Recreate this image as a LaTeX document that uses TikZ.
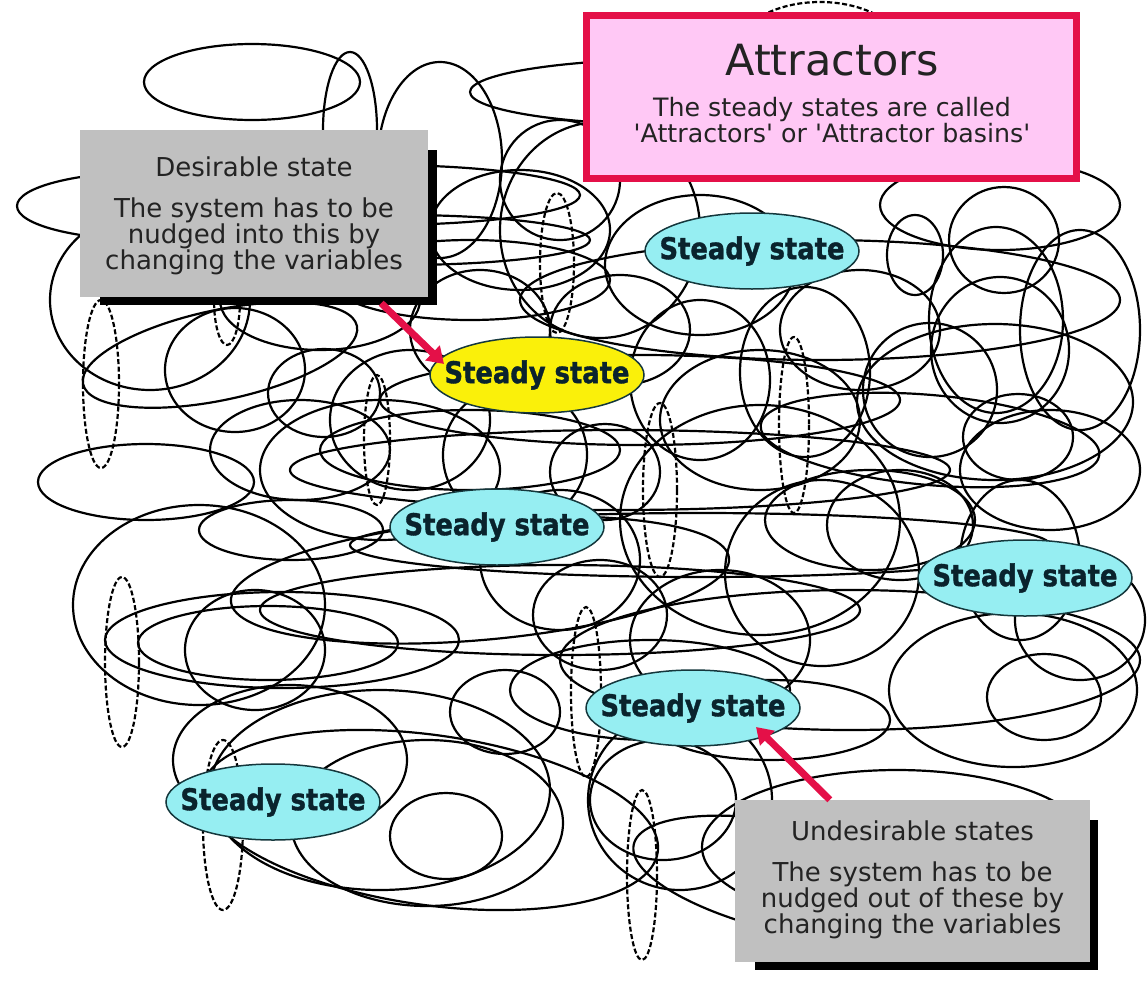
\documentclass[tikz,border=0pt]{standalone}
\usepackage{fontspec}
\setmainfont{DejaVu Sans}
\newfontfamily\statefont[FakeStretch=0.86,FakeBold=1.2]{DejaVu Sans}
\usetikzlibrary{shapes.geometric,arrows.meta}

\definecolor{pinkfill}{RGB}{255,200,245}
\definecolor{redline}{RGB}{228,16,72}
\definecolor{boxgray}{RGB}{192,192,192}
\definecolor{cyanfill}{RGB}{150,238,242}
\definecolor{yellowfill}{RGB}{250,240,10}
\definecolor{inktext}{RGB}{35,35,35}
\definecolor{statetext}{RGB}{10,35,45}
\definecolor{stateedge}{RGB}{20,55,60}

\tikzset{
  bgline/.style={line width=2.2pt, black},
  bgdash/.style={bgline, dash pattern=on 5pt off 2.5pt},
  state/.style={ellipse, draw=stateedge, line width=1.5pt,
    inner xsep=-18pt, inner ysep=0pt,
    minimum width=214pt, minimum height=76pt,
    font=\statefont\bfseries\fontsize{30}{30}\selectfont, text=statetext},
  cyanstate/.style={state, fill=cyanfill},
  yellowstate/.style={state, fill=yellowfill},
  notebox/.style={rectangle, fill=boxgray, inner sep=0pt},
  shadowbox/.style={rectangle, fill=black, inner sep=0pt},
  notetext/.style={align=center, text=inktext, inner sep=0pt,
    font=\fontsize{26}{25.8}\selectfont},
  pointer/.style={redline, line width=7pt, -{Triangle[length=16pt,width=20pt]}}
}

\begin{document}
\begin{tikzpicture}[x=1pt,y=-1pt]
\useasboundingbox (0,0) rectangle (1147,980);
\fill[white] (0,0) rectangle (1147,980);

% tangle of solid orbits
\foreach \cx/\cy/\rx/\ry/\rot in {
  252/82/108/38/0, 350/130/27/78/0, 440/160/62/98/0, 680/92/210/33/0,
  600/230/100/108/0, 150/206/133/34/0, 150/300/100/90/0, 220/355/140/45/12,
  235/370/70/62/0, 324/393/56/44/0, 146/482/108/38/0, 199/605/126/100/0,
  282/640/177/48/0, 268/643/130/37/0, 255/650/70/60/0, 291/530/92/30/0,
  290/760/117/75/0, 427/823/136/83/0, 446/836/56/43/0, 505/712/55/42/0,
  430/820/230/85/-8, 470/450/150/40/0, 515/455/72/70/0, 605/472/55/48/0,
  760/520/140/115/0, 700/265/95/70/0, 915/255/28/40/0, 996/320/67/93/0,
  1004/240/55/53/0, 1000/205/120/45/0, 995/402/138/78/0, 930/440/170/45/-5,
  930/390/67/67/0, 1018/437/55/43/0, 900/525/73/55/0, 870/520/105/50/0,
  1020/560/60/80/0, 1044/697/57/43/0, 1013/690/124/77/0, 850/660/290/70/0,
  663/800/73/60/0, 897/847/195/77/0, 822/573/97/93/0, 380/790/170/100/0,
  600/615/67/55/0, 680/800/92/90/0, 800/880/170/55/-12, 805/372/65/85/0,
  1000/350/69/73/0, 820/300/300/60/0, 620/470/330/40/0, 700/545/350/32/0,
  560/610/300/45/0, 480/580/250/60/5, 640/400/260/45/0, 480/330/70/60/0,
  620/330/70/55/0, 410/420/80/70/0, 520/230/90/60/0, 470/280/140/40/0,
  560/180/60/60/0, 320/300/100/50/0, 380/470/120/70/0, 300/450/90/50/0,
  560/560/80/70/0, 720/640/90/70/0, 650/690/140/50/0, 770/720/120/40/0,
  1080/330/60/100/0, 1050/470/90/60/0, 1080/620/65/60/0, 760/420/100/70/0,
  860/330/80/60/0, 700/380/70/80/0, 380/195/200/30/0, 400/240/190/25/0}
  \draw[bgline] (\cx,\cy) ellipse [x radius=\rx, y radius=\ry, rotate=\rot];

% narrow dashed orbits
\foreach \cx/\cy/\rx/\ry in {
  101/384/18/84, 227/300/13/45, 122/662/17/85, 223/825/20/85,
  660/490/17/87, 586/692/15/85, 642/875/15/85, 794/425/15/88,
  557/263/17/70, 820/60/90/58, 377/440/13/65}
  \draw[bgdash] (\cx,\cy) ellipse [x radius=\rx, y radius=\ry];

% title box
\node[rectangle, draw=redline, fill=pinkfill, line width=7pt, inner sep=0pt,
      minimum width=490pt, minimum height=163pt] (attr) at (831.5,97) {};
\node[text=inktext, inner sep=0pt, font=\fontsize{43}{43}\selectfont]
      (attrtitle) at (832,60) {Attractors};
\node[text=inktext, inner sep=0pt, align=center, font=\fontsize{25.3}{26}\selectfont]
      (attrsub) at (832,120) {The steady states are called\\\textquotesingle Attractors\textquotesingle\ or \textquotesingle Attractor basins\textquotesingle};

% desirable note
\node[shadowbox, minimum width=337pt, minimum height=155pt] (desireshadow) at (268.5,227.5) {};
\node[notebox, minimum width=348pt, minimum height=167pt] (desire) at (254,213.5) {};
\node[notetext] (desiretext) at (254,216) {Desirable state\\[15pt]The system has to be\\nudged into this by\\changing the variables};

% undesirable note
\node[shadowbox, minimum width=343pt, minimum height=150pt] (undesshadow) at (926.5,895) {};
\node[notebox, minimum width=355pt, minimum height=162pt] (undes) at (912.5,881) {};
\node[notetext] (undestext) at (912.5,880) {Undesirable states\\[15pt]The system has to be\\nudged out of these by\\changing the variables};

% steady states
\node[cyanstate] (s1) at (752,251) {Steady state};
\node[yellowstate] (s2) at (537,375) {Steady state};
\node[cyanstate] (s3) at (497,527) {Steady state};
\node[cyanstate] (s4) at (1025,578) {Steady state};
\node[cyanstate] (s5) at (693,708) {Steady state};
\node[cyanstate] (s6) at (273,802) {Steady state};

% pointers
\draw[pointer] ([shift={(-47,6)}]desire.south east) -- ([shift={(-93,-11)}]s2.center);
\draw[pointer] ([shift={(95,0)}]undes.north west) -- ([shift={(63,19)}]s5.center);
\end{tikzpicture}
\end{document}
